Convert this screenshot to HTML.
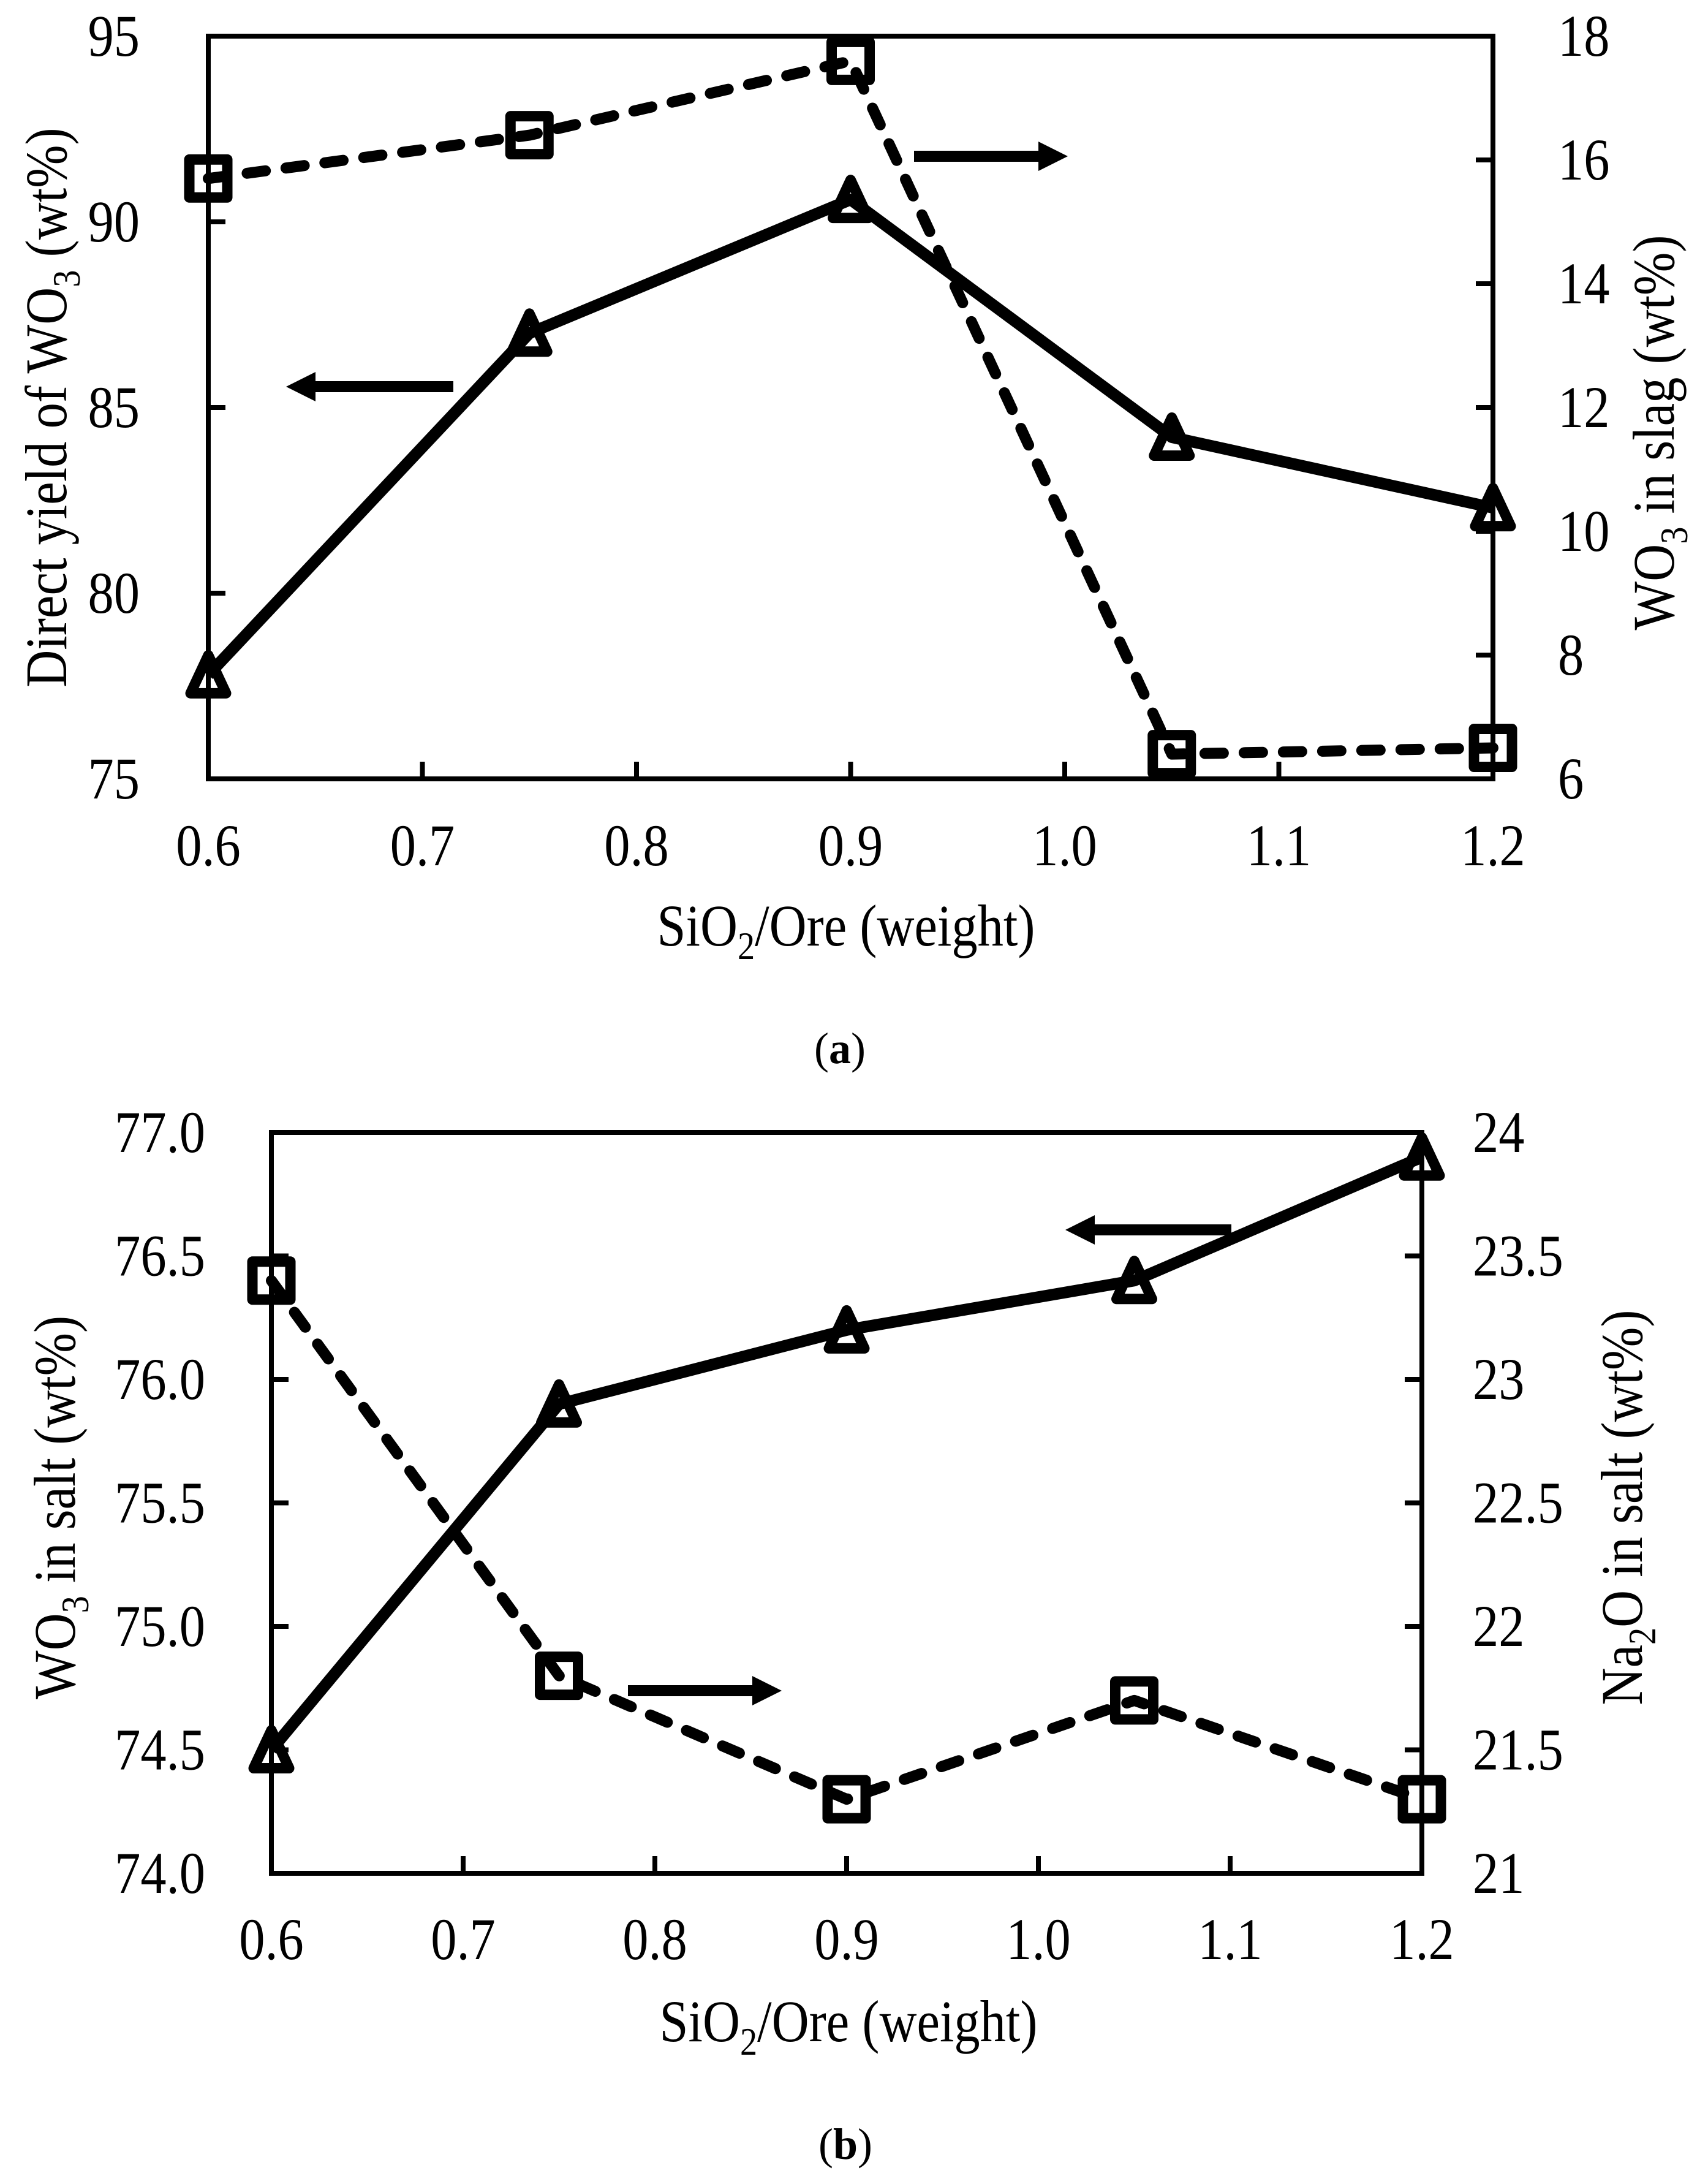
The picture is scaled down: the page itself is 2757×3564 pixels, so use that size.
<!DOCTYPE html>
<html><head><meta charset="utf-8">
<style>
html,body{margin:0;padding:0;background:#fff;}
svg{display:block;}
text{font-family:"Liberation Serif",serif;fill:#000;}
</style></head>
<body>
<svg id="fig" width="2757" height="3564" viewBox="0 0 2757 3564" xmlns="http://www.w3.org/2000/svg">
</svg>
<script>
// ---- data: panel (a)
const xCats = [0.6, 0.75, 0.9, 1.05, 1.2];
const xTicks = ["0.6","0.7","0.8","0.9","1.0","1.1","1.2"];
const yieldWO3 = [77.8, 87.0, 90.6, 84.2, 82.3];
const slagWO3 = [15.7, 16.4, 17.6, 6.4, 6.5];
const aLeftTicks = ["75","80","85","90","95"];
const aRightTicks = ["6","8","10","12","14","16","18"];
// ---- data: panel (b)
const saltWO3 = [74.5, 75.9, 76.2, 76.4, 76.9];
const saltNa2O = [23.4, 21.8, 21.3, 21.7, 21.3];
const bLeftTicks = ["74.0","74.5","75.0","75.5","76.0","76.5","77.0"];
const bRightTicks = ["21","21.5","22","22.5","23","23.5","24"];

const NS = "http://www.w3.org/2000/svg";
const svg = document.getElementById("fig");
function mk(tag, attrs, parent){
  const e = document.createElementNS(NS, tag);
  for (const k in attrs) e.setAttribute(k, attrs[k]);
  (parent||svg).appendChild(e);
  return e;
}
function txt(str, x, y, anchor, size, name, parent, sx){
  const g = mk("g", {transform:`translate(${x},${y}) scale(${sx||0.88},1)`}, parent);
  const t = mk("text", {x:0, y:0, "text-anchor":anchor, "font-size":size}, g);
  t.textContent = str;
  
  
  return t;
}

function panel(cfg){
  const g = mk("g", {});
  
  
  const {L,R,T,B} = cfg;
  const xs = v => L + (v - 0.6) / 0.6 * (R - L);
  const yl = v => B - (v - cfg.lmin) / (cfg.lmax - cfg.lmin) * (B - T);
  const yr = v => B - (v - cfg.rmin) / (cfg.rmax - cfg.rmin) * (B - T);
  const fr = mk("rect", {x:L, y:T, width:R-L, height:B-T, fill:"none", stroke:"#000", "stroke-width":8}, g);
  
  
  xTicks.forEach((s,i)=>{
    const v = parseFloat(s);
    const x = xs(v);
    const tk = mk("line", {x1:x, x2:x, y1:B, y2:B-28, stroke:"#000","stroke-width":8}, g);
    
    
    txt(s, x, cfg.xlabY, "middle", 96, "x-tick-label", g);
  });
  cfg.lTicks.forEach(s=>{
    const y = yl(parseFloat(s));
    const tk = mk("line", {x1:L, x2:L+28, y1:y, y2:y, stroke:"#000","stroke-width":8}, g);
    
    
    txt(s, L - cfg.lgap, y + 32, "end", 96, "left-y-tick-label", g);
  });
  cfg.rTicks.forEach(s=>{
    const y = yr(parseFloat(s));
    const tk = mk("line", {x1:R, x2:R-28, y1:y, y2:y, stroke:"#000","stroke-width":8}, g);
    
    
    txt(s, R + cfg.rgap, y + 32, "start", 96, "right-y-tick-label", g);
  });
  const dp = cfg.rVals.map((v,i)=>`${xs(xCats[i])},${yr(v)}`).join(" ");
  const dl = mk("polyline", {points:dp, fill:"none", stroke:"#000","stroke-width":18,"stroke-dasharray":"30 34","stroke-linecap":"round","stroke-linejoin":"round"}, g);
  
  
  const sp = cfg.lVals.map((v,i)=>`${xs(xCats[i])},${yl(v)}`).join(" ");
  const sl = mk("polyline", {points:sp, fill:"none", stroke:"#000","stroke-width":19,"stroke-linejoin":"round"}, g);
  
  
  cfg.rVals.forEach((v,i)=>{
    const x = xs(xCats[i]), y = yr(v);
    const m = mk("rect", {x:x-31, y:y-31, width:62, height:62, fill:"none", stroke:"#000","stroke-width":17,"stroke-linejoin":"round"}, g);
    
    
  });
  cfg.lVals.forEach((v,i)=>{
    const x = xs(xCats[i]), y = yl(v);
    const m = mk("polygon", {points:`${x},${y-32} ${x+29},${y+30} ${x-29},${y+30}`, fill:"none", stroke:"#000","stroke-width":17,"stroke-linejoin":"round"}, g);
    
    
  });
  cfg.arrows.forEach(a=>{
    const ag = mk("g", {}, g);
    
    
    const dir = a.x2 > a.x1 ? 1 : -1;
    const hx = a.x2 - dir*48;
    mk("line", {x1:a.x1, x2:hx, y1:a.y, y2:a.y, stroke:"#000","stroke-width":18}, ag);
    mk("polygon", {points:`${a.x2},${a.y} ${hx},${a.y-24} ${hx},${a.y+24}`, fill:"#000"}, ag);
  });
  return g;
}

panel({name:"panel-a", L:340, R:2437, T:59, B:1271, lmin:75, lmax:95, rmin:6, rmax:18,
  lTicks:aLeftTicks, rTicks:aRightTicks, lVals:yieldWO3, rVals:slagWO3,
  lName:"direct-yield", rName:"wo3-in-slag", xlabY:1412, lgap:112, rgap:106,
  arrows:[{name:"left-axis-arrow", x1:740, x2:467, y:631},{name:"right-axis-arrow", x1:1492, x2:1743, y:255}]});
panel({name:"panel-b", L:443, R:2321, T:1848, B:3057, lmin:74, lmax:77, rmin:21, rmax:24,
  lTicks:bLeftTicks, rTicks:bRightTicks, lVals:saltWO3, rVals:saltNa2O,
  lName:"wo3-in-salt", rName:"na2o-in-salt", xlabY:3197, lgap:108, rgap:83,
  arrows:[{name:"left-axis-arrow", x1:2010, x2:1739, y:2007},{name:"right-axis-arrow", x1:1025, x2:1276, y:2759}]});

function title(html, x, y, rot, name, anchor){
  const g = mk("g", {transform:`translate(${x},${y}) rotate(${rot}) scale(0.88,1)`});
  const t = mk("text", {x:0, y:0, "text-anchor":anchor||"middle", "font-size":96}, g);
  t.innerHTML = html;
  
  
}
const sub = s => `<tspan dy="22" font-size="64">${s}</tspan><tspan dy="-22">`;
title(`Direct yield of WO${sub("3")} (wt%)</tspan>`, 108, 665, -90, "left-y-axis-title-a");
title(`WO${sub("3")} in slag (wt%)</tspan>`, 2732, 706, -90, "right-y-axis-title-a");
title(`SiO${sub("2")}/Ore (weight)</tspan>`, 1381, 1543, 0, "x-axis-title-a");
title(`WO${sub("3")} in salt (wt%)</tspan>`, 122, 2460, -90, "left-y-axis-title-b");
title(`Na${sub("2")}O in salt (wt%)</tspan>`, 2680, 2460, -90, "right-y-axis-title-b");
title(`SiO${sub("2")}/Ore (weight)</tspan>`, 1385, 3331, 0, "x-axis-title-b");
(function(){
  const a = mk("text", {x:1371, y:1735, "text-anchor":"middle", "font-size":72});
  a.innerHTML = `(<tspan font-weight="bold">a</tspan>)`;
  
  
  const b = mk("text", {x:1380, y:3523, "text-anchor":"middle", "font-size":72});
  b.innerHTML = `(<tspan font-weight="bold">b</tspan>)`;
  
  
})();
</script>
</body></html>
